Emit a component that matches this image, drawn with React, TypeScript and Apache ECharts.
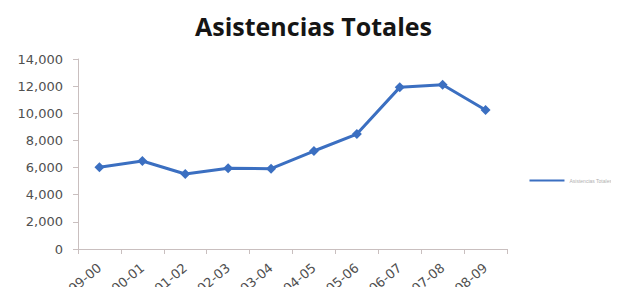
import React, { useEffect, useRef } from "react";
import * as echarts from "echarts";

const categories = ["99-00", "00-01", "01-02", "02-03", "03-04", "04-05", "05-06", "06-07", "07-08", "08-09"];
const values = [6020, 6480, 5530, 5950, 5920, 7220, 8470, 11910, 12100, 10240];
const seriesName = "Asistencias Totales";
const titleText = "Asistencias Totales";

export default function App() {
  const ref = useRef<HTMLDivElement>(null);
  useEffect(() => {
    const chart = echarts.init(ref.current!, null, { renderer: "svg" });
    chart.setOption({
      animation: false,
      backgroundColor: "#ffffff",
      title: {
        text: titleText,
        left: 190,
        top: 8,
        textStyle: { fontFamily: "Open Sans", fontWeight: "bold", fontSize: 25, color: "#151515" },
      },
      legend: {
        right: 2,
        top: 173,
        orient: "vertical",
        itemWidth: 35,
        itemHeight: 8,
        itemGap: 2,
        icon: "path://M0,3L35,3L35,5L0,5Z",
        textStyle: { fontSize: 5, color: "#b0b0b0", fontFamily: "Liberation Sans" },
        data: [seriesName],
      },
      grid: { left: 78, right: 112, top: 59, bottom: 46, containLabel: false, outerBoundsMode: "none" },
      xAxis: {
        type: "category",
        data: categories,
        boundaryGap: true,
        axisLine: { lineStyle: { color: "#c9bfbf", width: 1 } },
        axisTick: { show: true, alignWithLabel: false, length: 5, lineStyle: { color: "#c9bfbf" } },
        axisLabel: { rotate: 40, fontSize: 13, color: "#505050", fontFamily: "DejaVu Sans", margin: 17 },
      },
      yAxis: {
        type: "value",
        min: 0,
        max: 14000,
        interval: 2000,
        axisLine: { show: true, lineStyle: { color: "#c9bfbf", width: 1 } },
        axisTick: { show: true, length: 5, lineStyle: { color: "#c9bfbf" } },
        splitLine: { show: false },
        axisLabel: {
          fontSize: 13,
          color: "#505050",
          fontFamily: "DejaVu Sans",
          margin: 15,
          formatter: (v: number) => v.toLocaleString("en-US"),
        },
      },
      series: [
        {
          name: seriesName,
          type: "line",
          data: values,
          symbol: "diamond",
          symbolSize: 10,
          itemStyle: { color: "#3b6fc1" },
          lineStyle: { color: "#3b6fc1", width: 3 },
        },
      ],
    });
    return () => chart.dispose();
  }, []);
  return <div ref={ref} style={{ width: 619, height: 295, margin: -8 }} />;
}
